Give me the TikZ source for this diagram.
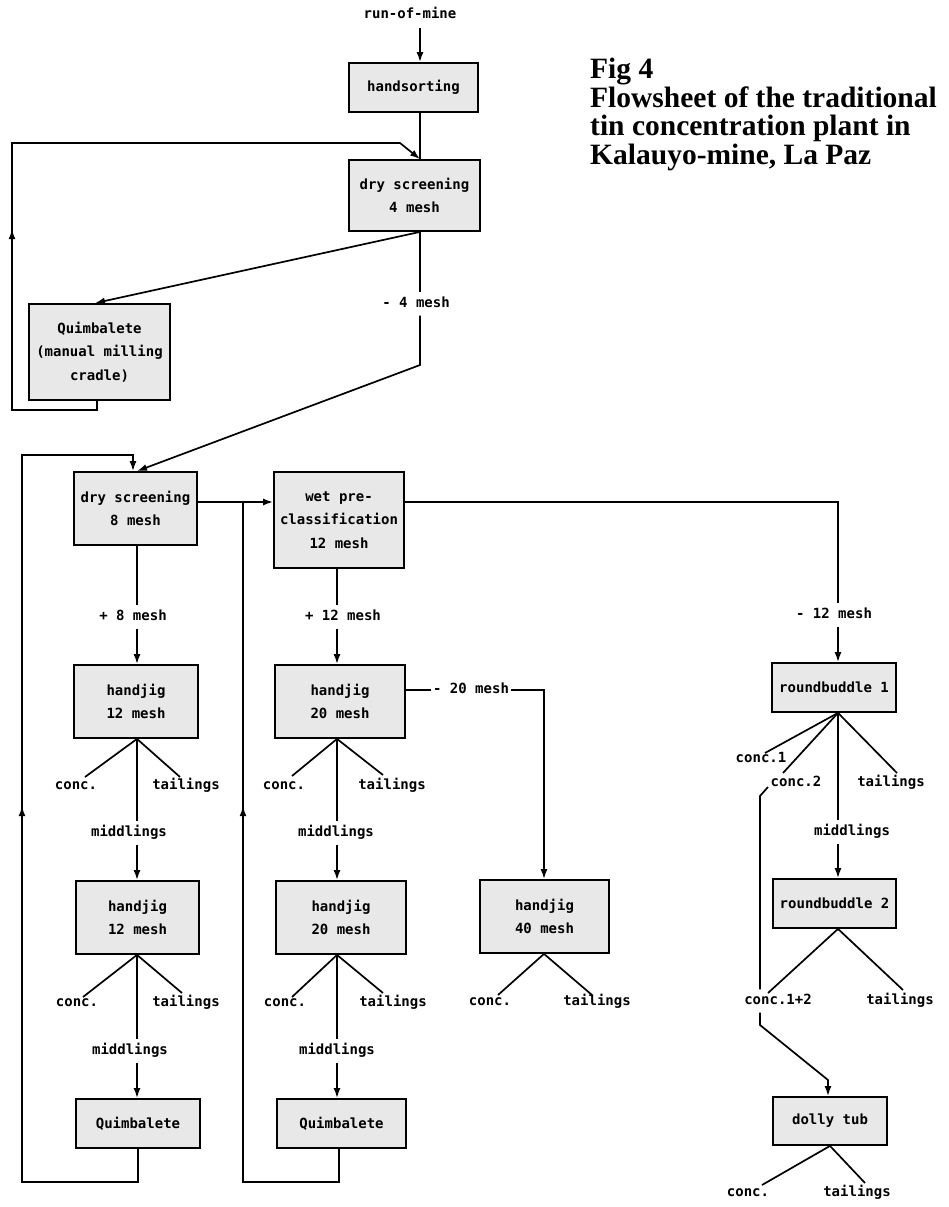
\documentclass[tikz,border=0pt]{standalone}
\usepackage{fontspec}
\setmainfont{Liberation Serif}
\newfontfamily\monof{DejaVu Sans Mono}
\usetikzlibrary{arrows.meta,decorations.markings,calc}
\tikzset{
 box/.style={draw, line width=1.8pt, fill=black!9, font=\monof\bfseries\fontsize{14}{23.5}\selectfont, align=center, inner sep=0pt},
 lbl/.style={font=\monof\bfseries\fontsize{14}{17}\selectfont, text height=10pt, text depth=3pt, inner xsep=2pt, inner ysep=5pt},
 ln/.style={line width=1.7pt},
 arr/.style={ln, -{Latex[length=10pt,width=7pt]}},
 midarr/.style={postaction={decorate, decoration={markings, mark=at position #1 with {\arrow{Latex[length=10pt,width=7pt]}}}}},
 ttl/.style={font=\bfseries\fontsize{29.5}{28.5}\selectfont, anchor=base west, inner sep=0pt}
}
\begin{document}
\begin{tikzpicture}[x=1pt,y=-1pt]
\path[use as bounding box] (0,0) rectangle (949,1207);

% title
\node[ttl] (t1) at (590,78) {Fig 4};
\node[ttl] (t2) at (590,107) {Flowsheet of the traditional};
\node[ttl] (t3) at (590,135.5) {tin concentration plant in};
\node[ttl] (t4) at (590,164) {Kalauyo-mine, La Paz};

% boxes
\node[box, minimum width=129pt, minimum height=49pt] (hs) at (413.5,87.5) {handsorting};
\node[box, minimum width=131pt, minimum height=71pt] (ds4) at (414.5,195.5) {dry screening\\4 mesh};
\node[box, minimum width=141pt, minimum height=96pt] (q1) at (99.5,352) {Quimbalete\\(manual milling\\cradle)};
\node[box, minimum width=123pt, minimum height=73pt] (ds8) at (135.5,508.5) {dry screening\\8 mesh};
\node[box, minimum width=130pt, minimum height=96pt] (wp) at (339,520) {wet pre-\\classification\\12 mesh};
\node[box, minimum width=124pt, minimum height=73pt] (hj12a) at (136,701.5) {handjig\\12 mesh};
\node[box, minimum width=130pt, minimum height=73pt] (hj20a) at (340,701.5) {handjig\\20 mesh};
\node[box, minimum width=124pt, minimum height=49pt] (rb1) at (834,687.5) {roundbuddle 1};
\node[box, minimum width=123pt, minimum height=73pt] (hj12b) at (137.5,917.5) {handjig\\12 mesh};
\node[box, minimum width=130pt, minimum height=73pt] (hj20b) at (341,917.5) {handjig\\20 mesh};
\node[box, minimum width=129pt, minimum height=73pt] (hj40) at (544.5,916.5) {handjig\\40 mesh};
\node[box, minimum width=123pt, minimum height=49pt] (rb2) at (834.5,903.5) {roundbuddle 2};
\node[box, minimum width=124pt, minimum height=49pt] (qb1) at (138,1123.5) {Quimbalete};
\node[box, minimum width=129pt, minimum height=49pt] (qb2) at (341.5,1123.5) {Quimbalete};
\node[box, minimum width=114pt, minimum height=48pt] (dt) at (830,1121) {dolly tub};

% labels
\node[lbl] (rom) at (410,15) {run-of-mine};
\node[lbl] (m4) at (416,304) {- 4 mesh};
\node[lbl] (p8) at (133,617) {+ 8 mesh};
\node[lbl] (p12) at (343,617) {+ 12 mesh};
\node[lbl] (m12) at (834,615) {- 12 mesh};
\node[lbl] (m20) at (471,690) {- 20 mesh};
\node[lbl] (c1a) at (76,786) {conc.};
\node[lbl] (t1a) at (186,786) {tailings};
\node[lbl] (mi1a) at (129,833) {middlings};
\node[lbl] (c2a) at (284,786) {conc.};
\node[lbl] (t2a) at (392,786) {tailings};
\node[lbl] (mi2a) at (336,833) {middlings};
\node[lbl] (c1r) at (761,759) {conc.1};
\node[lbl] (c2r) at (796,783) {conc.2};
\node[lbl] (tr1) at (891,783) {tailings};
\node[lbl] (mir) at (852,832) {middlings};
\node[lbl] (c1b) at (77,1003) {conc.};
\node[lbl] (t1b) at (186,1003) {tailings};
\node[lbl] (mi1b) at (130,1051) {middlings};
\node[lbl] (c2b) at (285,1003) {conc.};
\node[lbl] (t2b) at (393,1003) {tailings};
\node[lbl] (mi2b) at (337,1051) {middlings};
\node[lbl] (c4) at (490,1002) {conc.};
\node[lbl] (t4l) at (597,1002) {tailings};
\node[lbl] (c12) at (778,1001) {conc.1+2};
\node[lbl] (tr2) at (900,1001) {tailings};
\node[lbl] (cd) at (748,1193) {conc.};
\node[lbl] (td) at (857,1193) {tailings};

% column coordinates
\coordinate (X1) at (420,28);
\coordinate (X2) at (137,0);
\coordinate (X3) at (337,0);
\coordinate (X4) at (544,0);
\coordinate (X5) at (838,0);
\coordinate (H1) at (0,502);
\coordinate (H2) at (0,690);
\coordinate (B4) at (420,365);

% top
\draw[arr] (X1) -- (X1 |- hs.north);
\draw[ln] (X1 |- hs.south) -- (X1 |- ds4.north);
\draw[arr] (X1 |- ds4.south) -- ([xshift=-4.5]q1.north);
\draw[ln] (X1 |- ds4.south) -- (X1 |- m4.north);
\draw[arr] (X1 |- m4.south) -- (B4) -- ([xshift=1.5]ds8.north);

% loop 1
\coordinate (L1b) at (12,410);
\coordinate (L1t) at (12,143);
\coordinate (L1k) at (400,143);
\draw[arr, midarr=275pt] ([xshift=-2.5]q1.south) |- (L1b) -- (L1t) -- (L1k) -- (X1 |- ds4.north);

% loop 2
\coordinate (L2b) at (22,1182);
\coordinate (L2t) at (22,455);
\coordinate (L2k) at (133,455);
\draw[arr, midarr=525pt] (qb1.south) |- (L2b) -- (L2t) -- (L2k) -- (L2k |- ds8.north);

% loop 3
\coordinate (L3b) at (243,1182);
\coordinate (L3t) at (243,502);
\draw[ln, midarr=505pt] ([xshift=-2.5]qb2.south) |- (L3b) -- (L3t);

% horizontal main line
\draw[arr] (ds8.east |- H1) -- (wp.west |- H1);
\draw[ln] (wp.east |- H1) -- (X5 |- H1) -- (X5 |- m12.north);
\draw[arr] (X5 |- m12.south) -- (X5 |- rb1.north);

% column 1
\draw[ln] (X2 |- ds8.south) -- (X2 |- p8.north);
\draw[arr] (X2 |- p8.south) -- (X2 |- hj12a.north);
\draw[ln] (X2 |- hj12a.south) -- ([shift={(9,-9)}]c1a.center);
\draw[ln] (X2 |- hj12a.south) -- ([shift={(-6,-9)}]t1a.center);
\draw[ln] (X2 |- hj12a.south) -- (X2 |- mi1a.north);
\draw[arr] (X2 |- mi1a.south) -- (X2 |- hj12b.north);
\draw[ln] (X2 |- hj12b.south) -- ([shift={(6,-6)}]c1b.center);
\draw[ln] (X2 |- hj12b.south) -- ([shift={(-4,-10)}]t1b.center);
\draw[ln] (X2 |- hj12b.south) -- (X2 |- mi1b.north);
\draw[arr] (X2 |- mi1b.south) -- (X2 |- qb1.north);

% column 2
\draw[ln] (X3 |- wp.south) -- (X3 |- p12.north);
\draw[arr] (X3 |- p12.south) -- (X3 |- hj20a.north);
\draw[ln] (X3 |- hj20a.south) -- ([shift={(8,-10)}]c2a.center);
\draw[ln] (X3 |- hj20a.south) -- ([shift={(-9,-11)}]t2a.center);
\draw[ln] (X3 |- hj20a.south) -- (X3 |- mi2a.north);
\draw[arr] (X3 |- mi2a.south) -- (X3 |- hj20b.north);
\draw[ln] (X3 |- hj20b.south) -- ([shift={(7,-6)}]c2b.center);
\draw[ln] (X3 |- hj20b.south) -- ([shift={(-10,-10)}]t2b.center);
\draw[ln] (X3 |- hj20b.south) -- (X3 |- mi2b.north);
\draw[arr] (X3 |- mi2b.south) -- (X3 |- qb2.north);

% column 3
\draw[ln] (hj20a.east |- H2) -- (m20.west |- H2);
\draw[arr] (m20.east |- H2) -- (X4 |- H2) -- (X4 |- hj40.north);
\draw[ln] (X4 |- hj40.south) -- ([shift={(8,-7)}]c4.center);
\draw[ln] (X4 |- hj40.south) -- ([shift={(-5,-7)}]t4l.center);

% column 4
\draw[ln] (X5 |- rb1.south) -- ([shift={(4,-6)}]c1r.center);
\draw[ln] (X5 |- rb1.south) -- ([shift={(-13,-10)}]c2r.center);
\draw[ln] (X5 |- rb1.south) -- ([shift={(6,-10)}]tr1.center);
\draw[ln] (X5 |- rb1.south) -- (X5 |- mir.north);
\draw[arr] (X5 |- mir.south) -- (X5 |- rb2.north);
\draw[ln] (X5 |- rb2.south) -- ([shift={(-10,-8)}]c12.center);
\draw[ln] (X5 |- rb2.south) -- ([shift={(3,-11)}]tr2.center);
\coordinate (K1) at (760,796);
\coordinate (K2) at (760,1025);
\coordinate (K3) at (828,1080);
\draw[ln] ([shift={(-28,4)}]c2r.center) -- (K1) -- (K1 |- c12.north);
\draw[arr] (K1 |- c12.south) -- (K2) -- (K3) -- (K3 |- dt.north);
\draw[ln] (dt.south) -- ([shift={(14,-8)}]cd.center);
\draw[ln] (dt.south) -- ([shift={(8,-10)}]td.center);
\end{tikzpicture}
\end{document}
